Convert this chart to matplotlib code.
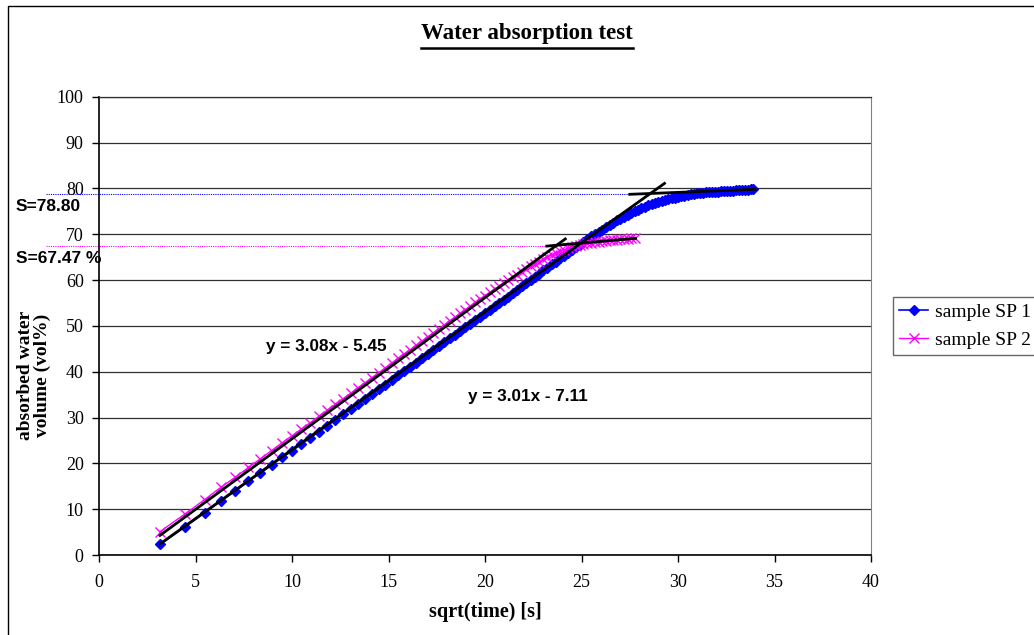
import numpy as np
import matplotlib
matplotlib.use("Agg")
import matplotlib.pyplot as plt
from matplotlib.patches import Rectangle

# ---- data -------------------------------------------------------------
# readings taken every 10 s; x axis shows sqrt(time)
time_sp1 = np.arange(10, 1160, 10)
time_sp2 = np.arange(10, 780, 10)

absorbed_sp1 = [
    2.3, 6.2, 9.2, 11.8, 14.0, 16.1, 17.9, 19.6, 21.3, 22.7,
    24.2, 25.6, 26.9, 28.2, 29.5, 30.7, 31.8, 33.0, 34.1, 35.2,
    36.2, 37.2, 38.2, 39.2, 40.2, 41.1, 42.0, 42.9, 43.8, 44.7,
    45.6, 46.4, 47.3, 48.1, 48.9, 49.7, 50.5, 51.3, 52.0, 52.8,
    53.5, 54.3, 55.0, 55.7, 56.4, 57.1, 57.9, 58.6, 59.3, 60.0,
    60.7, 61.4, 62.1, 62.7, 63.4, 64.0, 64.7, 65.3, 65.9, 66.5,
    67.1, 67.7, 68.3, 68.9, 69.5, 70.0, 70.5, 71.0, 71.5, 72.0,
    72.5, 73.0, 73.4, 73.8, 74.2, 74.6, 75.0, 75.3, 75.7, 76.0,
    76.3, 76.5, 76.8, 77.0, 77.3, 77.5, 77.7, 77.9, 78.0, 78.2,
    78.3, 78.4, 78.6, 78.7, 78.8, 78.9, 79.0, 79.0, 79.1, 79.2,
    79.2, 79.3, 79.3, 79.4, 79.4, 79.5, 79.5, 79.5, 79.6, 79.6,
    79.7, 79.7, 79.7, 79.8, 79.8,
]

absorbed_sp2 = [
    5.1, 9.0, 12.1, 14.8, 17.0, 19.1, 21.0, 22.8, 24.5, 26.0,
    27.5, 28.9, 30.3, 31.6, 32.9, 34.1, 35.3, 36.5, 37.6, 38.7,
    39.8, 40.8, 41.9, 42.9, 43.9, 44.8, 45.8, 46.7, 47.6, 48.5,
    49.4, 50.2, 51.1, 51.9, 52.7, 53.5, 54.3, 55.1, 55.8, 56.6,
    57.3, 58.0, 58.7, 59.4, 60.0, 60.6, 61.2, 61.8, 62.4, 63.0,
    63.5, 64.0, 64.5, 65.0, 65.5, 65.9, 66.3, 66.6, 66.9, 67.2,
    67.4, 67.6, 67.8, 68.0, 68.1, 68.2, 68.4, 68.5, 68.6, 68.7,
    68.8, 68.8, 68.9, 69.0, 69.0, 69.1, 69.1,
]

# linear trend lines: slope, intercept, x-range
trend_sp1 = (3.01, -7.11)
trend_sp1_range = [3.16, 29.3]
trend_sp2 = (3.08, -5.45)
trend_sp2_range = [3.16, 24.16]

# saturation tangents
tangent_sp1_x = [27.5, 34.0]
tangent_sp1_y = [78.7, 79.8]
tangent_sp2_x = [23.2, 27.8]
tangent_sp2_y = [67.4, 69.1]

saturation_sp1 = 78.80
saturation_sp2 = 67.47

series_labels = ["sample SP 1", "sample SP 2"]
x_ticks = [0, 5, 10, 15, 20, 25, 30, 35, 40]
y_ticks = [0, 10, 20, 30, 40, 50, 60, 70, 80, 90, 100]

# ---- figure -----------------------------------------------------------
W, H = 1034, 635
fig = plt.figure(figsize=(W / 100, H / 100), dpi=100)

def fx(px):
    return px / W

def fy(py):
    return 1 - py / H

serif = "Liberation Serif"
sans = "Liberation Sans"

# chart border (right and bottom edges run past the canvas)
fig.patches.append(Rectangle((fx(8), fy(720)), fx(1120) - fx(8), fy(6) - fy(720),
                             transform=fig.transFigure, fill=False,
                             edgecolor="black", linewidth=1.0, clip_on=False))

ax = fig.add_axes([fx(99), fy(555), fx(871) - fx(99), fy(96.7) - fy(555)])
ax.set_xlim(0, 40)
ax.set_ylim(0, 100)

ax.set_yticks(y_ticks)
ax.set_xticks(x_ticks)
ax.yaxis.grid(True, color="#303030", linewidth=0.9)
ax.set_axisbelow(True)
ax.tick_params(axis="both", direction="out", length=5, width=1, color="black",
               labelsize=13)
ax.tick_params(axis="y", pad=6)
ax.tick_params(axis="x", pad=9)
for lab in ax.get_xticklabels() + ax.get_yticklabels():
    lab.set_fontfamily(serif)
for side in ("left", "bottom"):
    ax.spines[side].set_color("black")
    ax.spines[side].set_linewidth(1.2)
ax.spines["right"].set_color("#808080")
ax.spines["top"].set_color("#303030")
ax.spines["top"].set_linewidth(0.9)

x1 = np.sqrt(time_sp1)
x2 = np.sqrt(time_sp2)

ax.plot(x1, absorbed_sp1, color="#0000FF", marker="D", markersize=5.5,
        linewidth=1.2, label=series_labels[0], zorder=3)
ax.plot(x2, absorbed_sp2, color="#FF00FF", marker="x", markersize=7,
        markeredgewidth=1.0, linewidth=1.0, label=series_labels[1], zorder=3)

for (m, b), rng in ((trend_sp1, trend_sp1_range), (trend_sp2, trend_sp2_range)):
    xs = np.array(rng)
    ax.plot(xs, m * xs + b, color="black", linewidth=2.0, zorder=4)

ax.plot(tangent_sp1_x, tangent_sp1_y, color="black", linewidth=2.0, zorder=4)
ax.plot(tangent_sp2_x, tangent_sp2_y, color="black", linewidth=2.0, zorder=4)

# saturation reference lines reaching out to the labels
x_left = (46 - 99) / ((871 - 99) / 40)
ax.plot([x_left, tangent_sp1_x[0]], [saturation_sp1, saturation_sp1],
        color="#0000FF", linestyle=(0, (1, 1)), linewidth=0.8, clip_on=False, zorder=2)
ax.plot([x_left, tangent_sp2_x[0]], [saturation_sp2, saturation_sp2],
        color="#FF00FF", linestyle=(0, (1, 1)), linewidth=0.8, clip_on=False, zorder=2)

fig.text(fx(16), fy(207), f"S={saturation_sp1:.2f}", family=sans, weight="bold",
         fontsize=12.5, ha="left", va="center")
fig.text(fx(16), fy(258), f"S={saturation_sp2:.2f} %", family=sans, weight="bold",
         fontsize=12.5, ha="left", va="center")

fig.text(fx(266), fy(346), f"y = {trend_sp2[0]:.2f}x - {abs(trend_sp2[1]):.2f}",
         family=sans, weight="bold", fontsize=12.3, ha="left", va="center")
fig.text(fx(468), fy(397), f"y = {trend_sp1[0]:.2f}x - {abs(trend_sp1[1]):.2f}",
         family=sans, weight="bold", fontsize=12.3, ha="left", va="center")

# title with underline
title = fig.text(fx(527), fy(34), "Water absorption test", family=serif,
                 weight="bold", fontsize=16.5, ha="center", va="center")
fig.canvas.draw()
bb = title.get_window_extent()
fig.add_artist(plt.Line2D([bb.x0 / W, bb.x1 / W], [fy(48), fy(48)],
                          transform=fig.transFigure, color="black", linewidth=1.8))

fig.text(fx(485), fy(612), "sqrt(time) [s]", family=serif, weight="bold",
         fontsize=14.5, ha="center", va="center")
fig.text(fx(34), fy(375), "absorbed water\nvolume (vol%)", family=serif,
         weight="bold", fontsize=14, ha="center", va="center", rotation=90,
         linespacing=1.05)

leg = ax.legend(loc="upper left", bbox_to_anchor=(fx(893), fy(297)),
                bbox_transform=fig.transFigure, frameon=True, fancybox=False,
                prop={"family": serif, "size": 14}, handlelength=1.5,
                handletextpad=0.35, borderpad=0.32, labelspacing=0.55,
                borderaxespad=0)
leg.get_frame().set_edgecolor("#404040")
leg.get_frame().set_linewidth(1.0)

fig.savefig("out.png", dpi=100)
